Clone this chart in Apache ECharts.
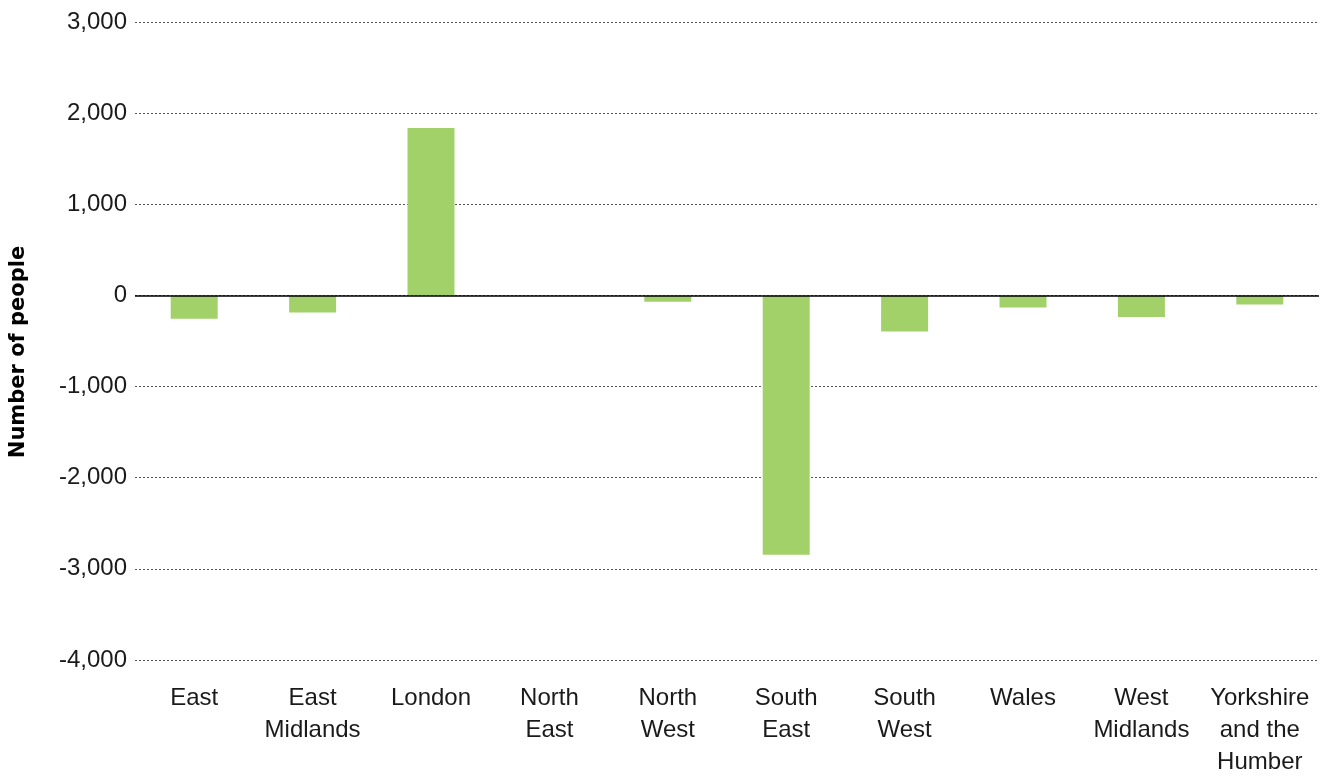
<!DOCTYPE html>
<html><head><meta charset="utf-8">
<script src="https://cdn.jsdelivr.net/npm/echarts@6/dist/echarts.min.js"></script>
<style>html,body{margin:0;padding:0;background:#fff}#c{width:1327px;height:778px}</style>
</head><body><div id="c"></div>
<script>
const categories = ["East","East\nMidlands","London","North\nEast","North\nWest","South\nEast","South\nWest","Wales","West\nMidlands","Yorkshire\nand the\nHumber"];
const values = [-255,-188,1838,0,-68,-2844,-396,-133,-238,-100];
const yTicks = {min:-4000, max:3000, interval:1000};
const FONT = "Liberation Sans";
const chart = echarts.init(document.getElementById('c'));
chart.setOption({
  animation:false,
  grid:{left:135,right:8,top:22,bottom:116,containLabel:false},
  xAxis:{type:'category',data:categories,
    axisLine:{show:false},axisTick:{show:false},
    axisLabel:{color:'#1a1a1a',fontFamily:FONT,fontSize:24,lineHeight:32,margin:22,interval:0}},
  yAxis:{type:'value',min:yTicks.min,max:yTicks.max,interval:yTicks.interval,
    name:'Number of people',nameLocation:'middle',nameGap:106,nameRotate:90,
    nameTextStyle:{fontFamily:'DejaVu Sans',fontSize:21,fontWeight:'bold',color:'#000',padding:[0,22,0,0]},
    axisLine:{show:false},axisTick:{show:false},
    axisLabel:{color:'#1a1a1a',fontFamily:FONT,fontSize:24,margin:8,
      formatter:v=>v.toLocaleString('en-US')},
    splitLine:{lineStyle:{color:'#555',type:[2,2],width:1}}},
  series:[{type:'bar',data:values,barWidth:47,
    itemStyle:{color:'#a2d16a'},
    markLine:{silent:true,symbol:'none',label:{show:false},
      lineStyle:{color:'#000',type:'solid',width:1.5},data:[{yAxis:0}]}}]
});
</script></body></html>
